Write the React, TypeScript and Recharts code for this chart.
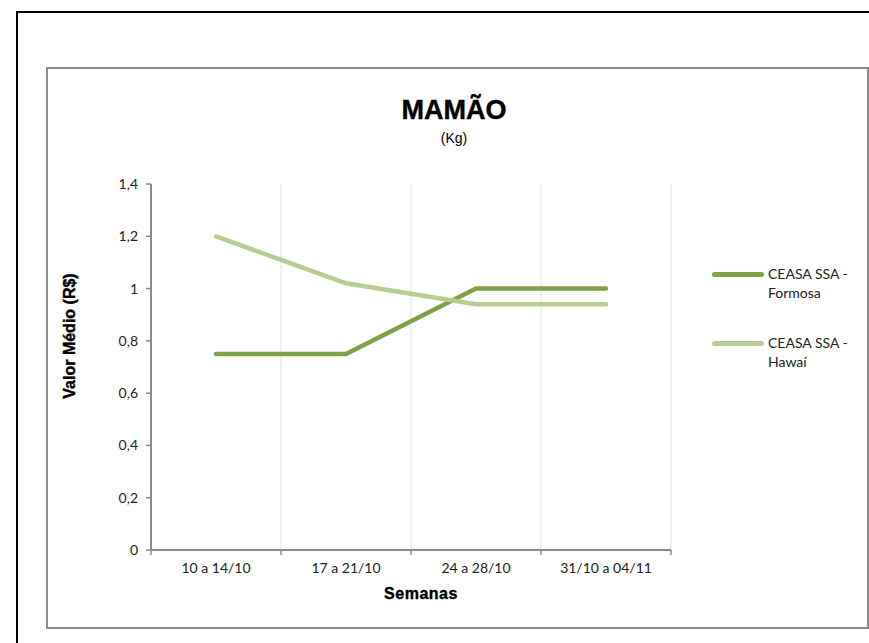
import { LineChart, Line, XAxis, YAxis, CartesianGrid, Legend } from 'recharts';

// weekly average prices for papaya at CEASA Salvador
const weeks = ['10 a 14/10', '17 a 21/10', '24 a 28/10', '31/10 a 04/11'];
const formosa = [0.75, 0.75, 1, 1];
const hawai = [1.2, 1.02, 0.94, 0.94];
const yTicks = [0, 0.2, 0.4, 0.6, 0.8, 1, 1.2, 1.4];

const seriesNames = ['CEASA SSA - Formosa', 'CEASA SSA - Hawaí'];
const seriesColors = ['#80a247', '#b7cd92'];

const data = weeks.map((week, i) => ({ week, formosa: formosa[i], hawai: hawai[i] }));

const W = 869;
const H = 643;
const PLOT = { left: 151, top: 184, right: 671, bottom: 550 };
const PLOT_W = PLOT.right - PLOT.left;
const Y_AXIS_W = 50;
const X_AXIS_H = 30;
const AXIS_GRAY = '#8a8a8a';
const TICK_FONT = 'Lato, "Open Sans", sans-serif';
const HEAD_FONT = '"Liberation Sans", Arial, sans-serif';
const TICK_SIZE = 5;
const TICK_MARGIN = 7;

const fmt = (v: number) => String(v).replace('.', ',');

function WeekTick(props: any) {
  const { x, y, payload, index } = props;
  const band = PLOT_W / weeks.length;
  const axisY = y - TICK_SIZE - TICK_MARGIN;
  return (
    <g>
      <line x1={x - band / 2} x2={x - band / 2} y1={axisY} y2={axisY + TICK_SIZE} stroke={AXIS_GRAY} strokeWidth={1.5} />
      {index === weeks.length - 1 && (
        <line x1={x + band / 2} x2={x + band / 2} y1={axisY} y2={axisY + TICK_SIZE} stroke={AXIS_GRAY} strokeWidth={1.5} />
      )}
      <text x={x} y={y} dy="0.75em" textAnchor="middle" fontSize={14} fontFamily={TICK_FONT} fill="#222">
        {payload.value}
      </text>
    </g>
  );
}

function LegendBox() {
  return (
    <div style={{ fontFamily: TICK_FONT, fontSize: 14, color: '#222', lineHeight: '19px' }}>
      {seriesNames.map((name, i) => {
        const [a, b] = name.split(' - ');
        return (
          <div key={name} style={{ display: 'flex', alignItems: 'flex-start', marginBottom: i === 0 ? 31 : 0 }}>
            <div
              style={{
                width: 52,
                height: 5,
                borderRadius: 3,
                background: seriesColors[i],
                marginTop: 8,
                marginRight: 4,
              }}
            />
            <div style={{ textAlign: 'left' }}>
              {a} -<br />
              {b}
            </div>
          </div>
        );
      })}
    </div>
  );
}

const heavy = { fontFamily: HEAD_FONT, fontWeight: 'bold' as const, color: '#000', WebkitTextStroke: '0.4px #000' };

export default function App() {
  return (
    <div style={{ position: 'absolute', left: 0, top: 0, width: W, height: H, background: '#fff', overflow: 'hidden' }}>
      <div
        style={{
          position: 'absolute',
          left: 16,
          top: 11,
          width: W,
          height: H,
          border: '2px solid #000',
          boxSizing: 'border-box',
        }}
      />
      <div
        style={{
          position: 'absolute',
          left: 46,
          top: 67,
          width: 823,
          height: 562,
          border: '2px solid #8c8c8c',
          boxSizing: 'border-box',
        }}
      />
      <div style={{ position: 'absolute', left: 0, top: 0 }}>
        <LineChart
          width={W}
          height={H}
          data={data}
          margin={{
            top: PLOT.top,
            right: W - PLOT.right,
            bottom: H - PLOT.bottom - X_AXIS_H,
            left: PLOT.left - Y_AXIS_W,
          }}
        >
          <CartesianGrid
            horizontal={false}
            stroke="#e2e2e2"
            strokeWidth={1}
            verticalCoordinatesGenerator={({ offset }: any) =>
              weeks.map((_, i) => offset.left + ((i + 1) * offset.width) / weeks.length)
            }
          />
          <XAxis
            dataKey="week"
            scale="band"
            height={X_AXIS_H}
            axisLine={{ stroke: AXIS_GRAY, strokeWidth: 2 }}
            tickLine={false}
            tickSize={TICK_SIZE}
            tickMargin={TICK_MARGIN}
            tick={<WeekTick />}
            interval={0}
          />
          <YAxis
            width={Y_AXIS_W}
            domain={[0, 1.4]}
            ticks={yTicks}
            tickFormatter={fmt}
            axisLine={{ stroke: AXIS_GRAY, strokeWidth: 2 }}
            tickLine={{ stroke: AXIS_GRAY, strokeWidth: 1.5 }}
            tickSize={TICK_SIZE}
            tickMargin={8}
            tick={{ fontSize: 14, fontFamily: TICK_FONT, fill: '#222' }}
            interval={0}
          />
          <Legend
            layout="horizontal"
            verticalAlign="middle"
            align="center"
            content={<LegendBox />}
            wrapperStyle={{ left: 712, top: 264, width: 150 }}
          />
          <Line
            type="linear"
            dataKey="formosa"
            name={seriesNames[0]}
            stroke={seriesColors[0]}
            strokeWidth={4.5}
            strokeLinecap="round"
            dot={false}
            activeDot={false}
            isAnimationActive={false}
          />
          <Line
            type="linear"
            dataKey="hawai"
            name={seriesNames[1]}
            stroke={seriesColors[1]}
            strokeWidth={4.5}
            strokeLinecap="round"
            dot={false}
            activeDot={false}
            isAnimationActive={false}
          />
        </LineChart>
      </div>
      <div
        style={{
          ...heavy,
          position: 'absolute',
          left: 354,
          width: 200,
          top: 95,
          textAlign: 'center',
          fontSize: 27,
          lineHeight: '30px',
        }}
      >
        MAMÃO
      </div>
      <div
        style={{
          position: 'absolute',
          left: 354,
          width: 200,
          top: 129,
          textAlign: 'center',
          fontFamily: HEAD_FONT,
          fontSize: 14,
          lineHeight: '18px',
          color: '#000',
        }}
      >
        (Kg)
      </div>
      <div
        style={{
          ...heavy,
          position: 'absolute',
          left: 321,
          width: 200,
          top: 584,
          textAlign: 'center',
          fontSize: 16,
          letterSpacing: 0.5,
          lineHeight: '20px',
        }}
      >
        Semanas
      </div>
      <div
        style={{
          ...heavy,
          position: 'absolute',
          left: 70,
          top: 336,
          width: 200,
          marginLeft: -100,
          marginTop: -10,
          transform: 'rotate(-90deg)',
          textAlign: 'center',
          fontSize: 16,
          lineHeight: '20px',
        }}
      >
        Valor Médio (R$)
      </div>
    </div>
  );
}
